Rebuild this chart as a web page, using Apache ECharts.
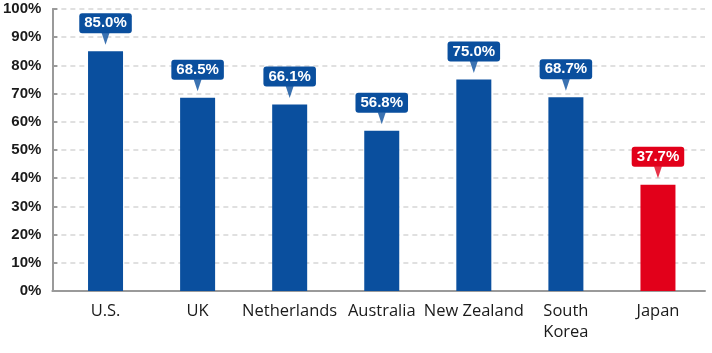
<!DOCTYPE html>
<html>
<head>
<meta charset="utf-8">
<script src="https://cdn.jsdelivr.net/npm/echarts@6/dist/echarts.min.js"></script>
<style>
  html, body { margin: 0; padding: 0; background: #fff; }
  #chart { width: 712px; height: 353px; }
</style>
</head>
<body>
<div id="chart"></div>
<script>
const countries = ['U.S.', 'UK', 'Netherlands', 'Australia', 'New Zealand', 'South\nKorea', 'Japan'];
const rates = [85.0, 68.5, 66.1, 56.8, 75.0, 68.7, 37.7];
const highlight = ['Japan'];

const BLUE = '#0a4f9e';
const RED = '#e2001a';

const chart = echarts.init(document.getElementById('chart'), null, { renderer: 'canvas' });

const colorOf = (i) => (highlight.includes(countries[i]) ? RED : BLUE);

chart.setOption({
    animation: false,
    backgroundColor: '#fff',
    grid: [
        // axis frame: y axis + full-width baseline
        { left: 49, right: 7, top: 9, bottom: 62 },
        // bars
        { left: 59.5, right: 8, top: 9, bottom: 62 },
    ],
    xAxis: [
        {
            gridIndex: 0,
            type: 'value',
            min: 0,
            max: 1,
            axisLine: { show: true, lineStyle: { color: '#9a9a9a', width: 2 } },
            axisTick: { show: false },
            axisLabel: { show: false },
            splitLine: { show: false },
        },
        {
            gridIndex: 1,
            type: 'category',
            data: countries,
            axisLine: { show: false },
            axisTick: { show: false },
            axisLabel: {
                color: '#1a1a1a',
                fontFamily: 'Open Sans',
                fontSize: 16.5,
                lineHeight: 21,
                margin: 10,
                interval: 0,
            },
        },
    ],
    yAxis: [
        {
            gridIndex: 0,
            type: 'value',
            min: 0,
            max: 100,
            interval: 10,
            axisLine: { show: true, lineStyle: { color: '#9a9a9a', width: 2 } },
            axisTick: { show: true, inside: true, length: 5, lineStyle: { color: '#9a9a9a', width: 2 } },
            axisLabel: {
                formatter: '{value}%',
                color: '#1a1a1a',
                fontFamily: 'Liberation Sans',
                fontWeight: 'bold',
                fontSize: 15,
                margin: 11,
            },
            splitLine: {
                show: true,
                lineStyle: { color: '#d6d6d6', type: [5, 4], width: 1.5 },
            },
        },
        {
            gridIndex: 1,
            type: 'value',
            min: 0,
            max: 100,
            show: false,
        },
    ],
    series: [
        {
            type: 'bar',
            xAxisIndex: 1,
            yAxisIndex: 1,
            barWidth: 35,
            data: rates.map((v, i) => ({ value: v, itemStyle: { color: colorOf(i) } })),
            label: {
                show: true,
                position: 'top',
                distance: 18,
                formatter: (p) => p.value.toFixed(1) + '%',
                color: '#fff',
                fontFamily: 'Liberation Sans',
                fontWeight: 'bold',
                fontSize: 15,
                lineHeight: 16,
                padding: [2, 5, 2, 5],
                borderRadius: 3,
                backgroundColor: 'inherit',
            },
            z: 2,
        },
        {
            // callout pointer under each label
            type: 'scatter',
            xAxisIndex: 1,
            yAxisIndex: 1,
            symbol: 'path://M0,0 L10,0 L5,13 Z',
            symbolSize: [8, 12],
            symbolOffset: [0, -12.5],
            data: rates.map((v, i) => ({ value: v, itemStyle: { color: colorOf(i) } })),
            silent: true,
            z: 3,
        },
    ],
});
</script>
</body>
</html>
